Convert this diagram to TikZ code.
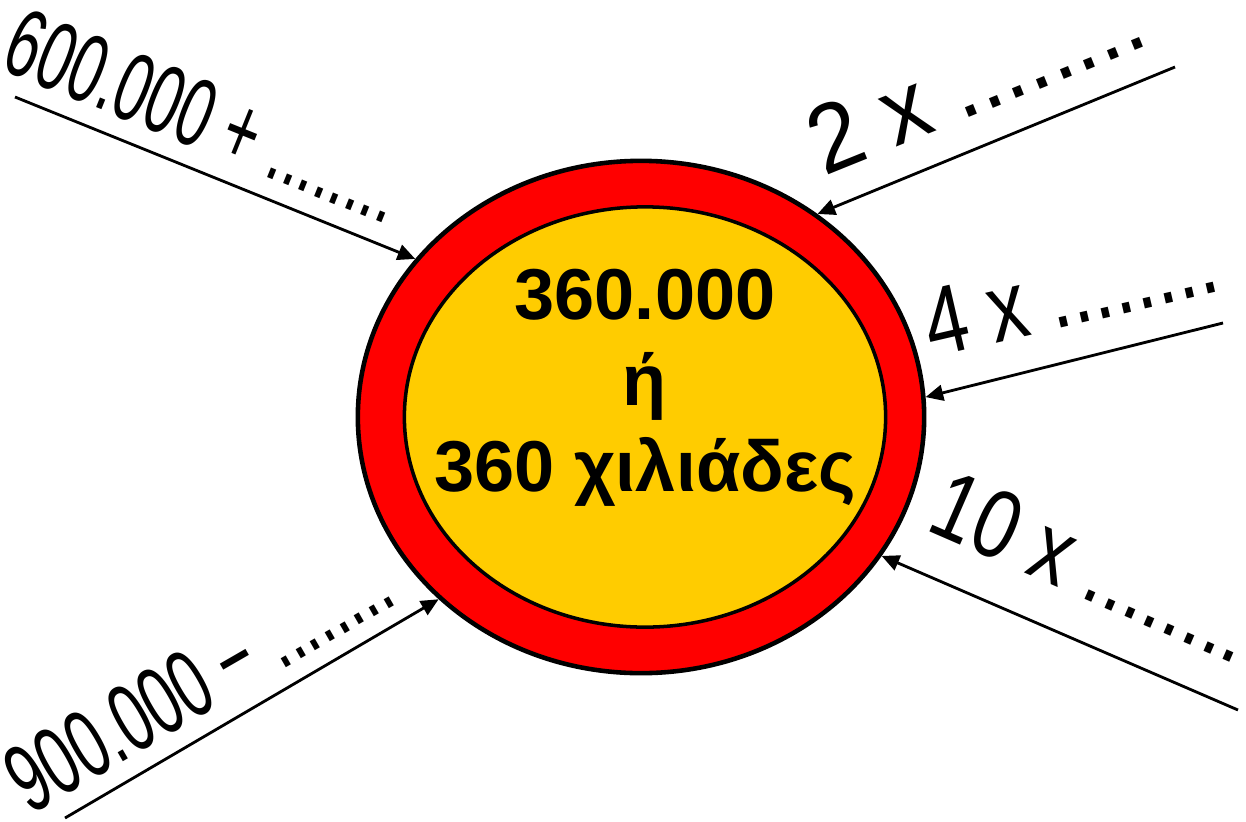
\documentclass[tikz,border=0pt]{standalone}
\usepackage{fontspec}
\setmainfont{Liberation Sans}
\usetikzlibrary{arrows.meta, shapes.geometric}
\definecolor{ringred}{RGB}{255,0,0}
\definecolor{coreyellow}{RGB}{255,204,0}

\begin{document}
\begin{tikzpicture}[
    x=0.01cm, y=-0.01cm,
    ring/.style={draw, ellipse, line width=1.3pt, inner sep=0pt},
    hint/.style={font=\fontsize{27.5}{30}\selectfont, inner sep=0pt},
    feed/.style={-{Triangle[length=5pt, width=4.5pt]}, line width=0.8pt}
  ]
    \useasboundingbox (0,0) rectangle (1246,821);

    % Ring
    \node[ring, fill=ringred, minimum width=5.66cm, minimum height=5.12cm] (outer) at (641,417) {};
    \node[ring, fill=coreyellow, line width=1pt, minimum width=4.81cm, minimum height=4.2cm] (core) at (645,417) {};
    \node[align=center, font=\bfseries\fontsize{20.5}{24.5}\selectfont] (value) at (645,388) {360.000\\ή\\360 χιλιάδες};

    % Labels
    \node[hint, rotate=-22] (plus) at (205,116) {\scalebox{0.62}[1]{600.000 + ........}};
    \node[hint, rotate=22] (twice) at (975,79) {\scalebox{0.95}[1]{2 x ........}};
    \node[hint, rotate=13] (four) at (1070,292) {\scalebox{0.8}[1]{4 x ........}};
    \node[hint, rotate=-23.5] (ten) at (1094,567) {\scalebox{0.8}[1]{10 x ........}};
    \node[hint, rotate=30] (minus) at (198,680) {\scalebox{0.63}[1]{900.000 − ........}};

    % Arrows
    \coordinate (s1) at (15,97);
    \coordinate (s2) at (1175,67);
    \coordinate (s3) at (1223,323);
    \coordinate (s4) at (1238,710);
    \coordinate (s5) at (65,818);
    \draw[feed] (s1) -- (outer.145);
    \draw[feed] (s2) -- (outer.49);
    \draw[feed] (s3) -- (outer.4);
    \draw[feed] (s4) -- (outer.-30);
    \draw[feed] (s5) -- (outer.222);
  \end{tikzpicture}
\end{document}
